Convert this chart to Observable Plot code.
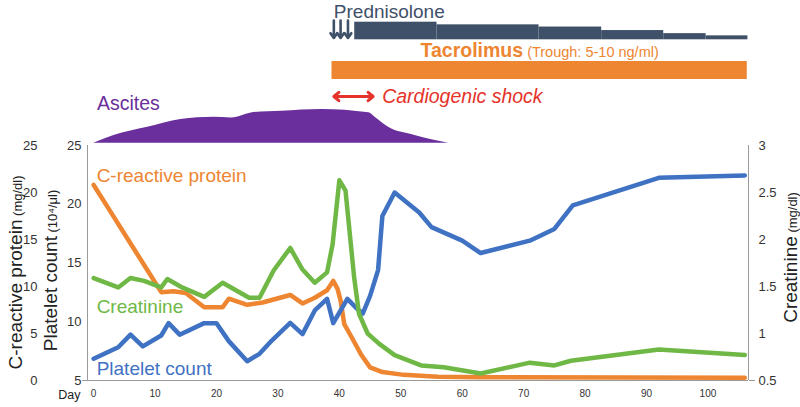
<!DOCTYPE html>
<html>
<head>
<meta charset="utf-8">
<script src="https://cdn.jsdelivr.net/npm/d3@7"></script>
<script src="https://cdn.jsdelivr.net/npm/@observablehq/plot@0.6"></script>
<style>
  html, body { margin: 0; padding: 0; background: #fff; }
  #chart { position: relative; width: 800px; height: 407px; overflow: hidden; }
  #chart svg { position: absolute; left: 0; }
</style>
</head>
<body>
<div id="chart"></div>
<script>
// ---------- data ----------
const dayTicks = [0, 10, 20, 30, 40, 50, 60, 70, 80, 90, 100];
const crpTicks = [0, 5, 10, 15, 20, 25];
const plateletTicks = [5, 10, 15, 20, 25];
const creatinineTicks = [0.5, 1, 1.5, 2, 2.5, 3];

const crpDays   = [0, 3, 5.7, 8.4, 11, 13, 15, 18, 21, 22, 25, 27.5, 32, 34, 36, 38, 39, 39.7, 40.2, 40.8, 42, 43.5, 45, 47, 50.5, 56, 63, 106];
const crpValues = [20.8, 17.7, 14.9, 12.1, 9.4, 9.5, 9.3, 7.8, 7.8, 8.7, 8.05, 8.3, 9.1, 8.2, 8.8, 9.6, 10.6, 9.75, 8.5, 6.0, 4.6, 2.8, 1.4, 0.9, 0.6, 0.4, 0.35, 0.3];

const plateletDays   = [0, 4, 6, 8, 11, 12.2, 14, 18, 20, 22, 25, 27, 29, 32, 34, 36, 38, 39, 41.3, 42.9, 43.8, 45, 46.3, 47, 49, 53, 55, 60, 63, 71, 75, 78, 92, 106];
const plateletValues = [6.85, 7.83, 8.9, 7.9, 8.83, 9.88, 8.9, 9.88, 9.88, 8.35, 6.64, 7.27, 8.4, 9.9, 8.95, 10.96, 11.95, 9.88, 11.95, 11.1, 10.7, 12.2, 14.4, 19.0, 21.0, 19.3, 18.05, 16.9, 15.85, 16.9, 17.9, 19.9, 22.25, 22.45];

const creatinineDays   = [0, 4, 6, 8.2, 11, 12, 14.4, 18, 21, 25.3, 27, 29.3, 32, 34, 36, 38, 38.9, 40, 41, 42.4, 43.2, 44.6, 46.5, 49, 53.3, 57, 63, 71, 75, 77.7, 92, 106];
const creatinineValues = [1.59, 1.49, 1.59, 1.56, 1.49, 1.58, 1.49, 1.39, 1.54, 1.38, 1.38, 1.67, 1.91, 1.68, 1.54, 1.65, 1.95, 2.63, 2.52, 1.6, 1.21, 1.0, 0.89, 0.77, 0.66, 0.64, 0.575, 0.69, 0.66, 0.71, 0.83, 0.77];

const ascitesDays   = [0, 3.3, 8.8, 14.2, 19.6, 22.4, 26.1, 30.6, 37.1, 44.8, 45.8, 48, 52.3, 57.8];
const ascitesLevels = [0, 2.3, 4.7, 7.0, 7.7, 7.5, 9.1, 9.5, 10, 9.0, 7.7, 4.7, 2.3, 0];

const prednisoloneStart = [42.5, 55.9, 72.5, 82.7, 92.8, 99.7];
const prednisoloneEnd   = [55.9, 72.5, 82.7, 92.8, 99.7, 106.5];
const prednisoloneDose  = [40, 34, 29, 21, 14, 9];
const pulseDays = [39.1, 40.2, 41.4];

const tacrolimusSpan = [38.8, 106.4];
const shockSpan = [39.1, 45.5];

const seriesLabels = ["C-reactive protein", "Creatinine", "Platelet count"];

// ---------- style ----------
const orange = "#ee8531", green = "#6fb846", blue = "#3f72c3", purple = "#6a2f9c",
      slate = "#3f5069", red = "#e5322a", axisGray = "#9a9a9a", textGray = "#333";
const FONT = "'Liberation Sans', Arial, Helvetica, sans-serif";
const xDomain = [-1, 106.6];
const M = {marginLeft: 87, marginRight: 52};

// scale helpers: everything drawn on the CRP scale (0–25)
const fromPlatelet = p => (p - 5) * 25 / 20;
const fromCreatinine = c => (c - 0.5) * 25 / 2.5;

const rows = (days, vals) => days.map((day, i) => ({day, value: vals[i]}));
const crpRows = rows(crpDays, crpValues);
const plateletRows = rows(plateletDays, plateletValues);
const creatinineRows = rows(creatinineDays, creatinineValues);
const ascitesRows = rows(ascitesDays, ascitesLevels);
const predRows = prednisoloneStart.map((s, i) => ({start: s, end: prednisoloneEnd[i], dose: prednisoloneDose[i]}));
const shockMid = (shockSpan[0] + shockSpan[1]) / 2;

const unitSizes = {"C-reactive protein": 13, "Platelet count": 13, "Creatinine": 13, "Tacrolimus": 14.5};
function splitSpans(svg) {
  d3.select(svg).selectAll("text").filter(function () { return this.textContent.includes("§"); })
    .each(function () {
      const [a, b] = this.textContent.split("§");
      const t = d3.select(this);
      t.text(null);
      t.append("tspan").text(a);
      t.append("tspan").attr("font-size", unitSizes[a]).attr("font-weight", "normal").text(" " + b);
    });
}

const container = document.getElementById("chart");
function place(svg, top) {
  svg.style.top = top + "px";
  container.appendChild(svg);
}
const baseStyle = {background: "transparent", overflow: "visible", fontFamily: FONT};

// ---------- main chart ----------
const main = Plot.plot({
  width: 800, height: 407, marginTop: 145, marginBottom: 27, ...M,
  style: baseStyle,
  x: {domain: xDomain, label: null},
  y: {domain: [0, 25], label: null},
  marks: [
    Plot.ruleY([0], {stroke: axisGray}),
    Plot.ruleX([xDomain[0]], {stroke: axisGray}),
    Plot.ruleX([xDomain[1]], {stroke: axisGray}),
    Plot.axisX(dayTicks, {tickSize: 0, tickPadding: 9, fontSize: 10, fill: textGray, label: null}),
    Plot.text(["Day"], {text: d => d, frameAnchor: "bottom-left", textAnchor: "end", lineAnchor: "middle", dx: -7, dy: 14, fontSize: 12.5, fill: "#222"}),
    Plot.axisY(crpTicks, {anchor: "left", tickSize: 0, tickPadding: 50, fontSize: 13, fill: textGray, label: null}),
    Plot.axisY(plateletTicks.map(fromPlatelet), {anchor: "left", tickSize: 0, tickPadding: 6, fontSize: 13, fill: textGray, label: null,
      tickFormat: v => String(Math.round(5 + v * 20 / 25))}),
    Plot.axisY([fromPlatelet(plateletTicks[0])], {anchor: "left", tickSize: 5, stroke: axisGray, tickFormat: () => "", label: null}),
    Plot.axisY(creatinineTicks.map(fromCreatinine), {anchor: "right", tickSize: 0, tickPadding: 10, fontSize: 13, fill: textGray, label: null,
      tickFormat: v => String(+(v * 2.5 / 25 + 0.5).toFixed(1))}),
    Plot.axisY([fromCreatinine(creatinineTicks[0])], {anchor: "right", tickSize: 6, stroke: axisGray, tickFormat: () => "", label: null}),
    // axis titles
    Plot.text(["C-reactive protein§(mg/dl)"], {text: d => d, frameAnchor: "top-left", textAnchor: "middle", lineAnchor: "middle", rotate: -90, dx: -72, dy: 127, fontSize: 19, fill: "#222"}),
    Plot.text(["Platelet count§(10⁴/μl)"], {text: d => d, frameAnchor: "top-left", textAnchor: "middle", lineAnchor: "middle", rotate: -90, dx: -37, dy: 125, fontSize: 19, fill: "#222"}),
    Plot.text(["Creatinine§(mg/dl)"], {text: d => d, frameAnchor: "top-right", textAnchor: "middle", lineAnchor: "middle", rotate: -90, dx: 42, dy: 112, fontSize: 19, fill: "#222"}),
    // series
    Plot.line(crpRows, {x: "day", y: "value", stroke: orange, strokeWidth: 4.5, strokeLinejoin: "round"}),
    Plot.line(plateletRows, {x: "day", y: d => fromPlatelet(d.value), stroke: blue, strokeWidth: 4.5, strokeLinejoin: "round"}),
    Plot.line(creatinineRows, {x: "day", y: d => fromCreatinine(d.value), stroke: green, strokeWidth: 4.5, strokeLinejoin: "round"}),
    // series labels
    Plot.text([seriesLabels[0]], {text: d => d, x: [crpDays[0]], y: [21.8], dx: 3, textAnchor: "start", fontSize: 19, fill: orange}),
    Plot.text([seriesLabels[1]], {text: d => d, x: [creatinineDays[0]], y: [7.8], dx: 3, textAnchor: "start", fontSize: 19, fill: green}),
    Plot.text([seriesLabels[2]], {text: d => d, x: [plateletDays[0]], y: [1.24], dx: 3, textAnchor: "start", fontSize: 19, fill: blue})
  ]
});
splitSpans(main);
place(main, 0);

// ---------- prednisolone track ----------
const pred = Plot.plot({
  width: 800, height: 44, marginTop: 21.7, marginBottom: 4.7, ...M,
  style: baseStyle,
  x: {domain: xDomain, axis: null},
  y: {domain: [0, 40], axis: null},
  marks: [
    Plot.rectY(predRows, {x1: "start", x2: "end", y: "dose", fill: slate}),
    Plot.arrow(pulseDays, {x: d => d, y1: 44, y2: 4, stroke: slate, strokeWidth: 2.6, headLength: 6, headAngle: 70}),
    Plot.text(["Prednisolone"], {text: d => d, x: [pulseDays[0]], frameAnchor: "top", lineAnchor: "middle", dy: -10.7, textAnchor: "start", fontSize: 19, fill: slate})
  ]
});
place(pred, 0);

// ---------- tacrolimus track ----------
const tac = Plot.plot({
  width: 800, height: 40, marginTop: 17, marginBottom: 5, ...M,
  style: baseStyle,
  x: {domain: xDomain, axis: null},
  marks: [
    Plot.barX([tacrolimusSpan], {x1: d => d[0], x2: d => d[1], fill: orange}),
    Plot.text(["Tacrolimus§(Trough: 5-10 ng/ml)"], {text: d => d, x: [(tacrolimusSpan[0] + tacrolimusSpan[1]) / 2], frameAnchor: "top", lineAnchor: "middle", dy: -11,
      textAnchor: "middle", fontSize: 19.5, fontWeight: "bold", fill: orange})
  ]
});
splitSpans(tac);
place(tac, 44);

// ---------- cardiogenic shock ----------
const shock = Plot.plot({
  width: 800, height: 20, marginTop: 0, marginBottom: 0, ...M,
  style: baseStyle,
  x: {domain: xDomain, axis: null},
  y: {domain: [-1, 1], axis: null},
  marks: [
    Plot.arrow([shockSpan], {x1: () => shockMid, x2: d => d[0], y1: 0, y2: 0, stroke: red, strokeWidth: 3, headLength: 9, headAngle: 80}),
    Plot.arrow([shockSpan], {x1: () => shockMid, x2: d => d[1], y1: 0, y2: 0, stroke: red, strokeWidth: 3, headLength: 9, headAngle: 80}),
    Plot.text(["Cardiogenic shock"], {text: d => d, x: [shockSpan[1]], y: [0], dx: 9, textAnchor: "start",
      fontSize: 19.5, fontStyle: "italic", fill: red})
  ]
});
place(shock, 86);

// ---------- ascites ----------
const asc = Plot.plot({
  width: 800, height: 45, marginTop: 9, marginBottom: 2.3, ...M,
  style: baseStyle,
  x: {domain: xDomain, axis: null},
  y: {domain: [0, 10], axis: null},
  marks: [
    Plot.areaY(ascitesRows, {x: "day", y: "value", fill: purple, curve: "monotone-x"}),
    Plot.text(["Ascites"], {text: d => d, frameAnchor: "top-left", lineAnchor: "middle", dx: 9.5, dy: -6, textAnchor: "start", fontSize: 19.5, fill: purple})
  ]
});
place(asc, 100);
</script>
</body>
</html>
